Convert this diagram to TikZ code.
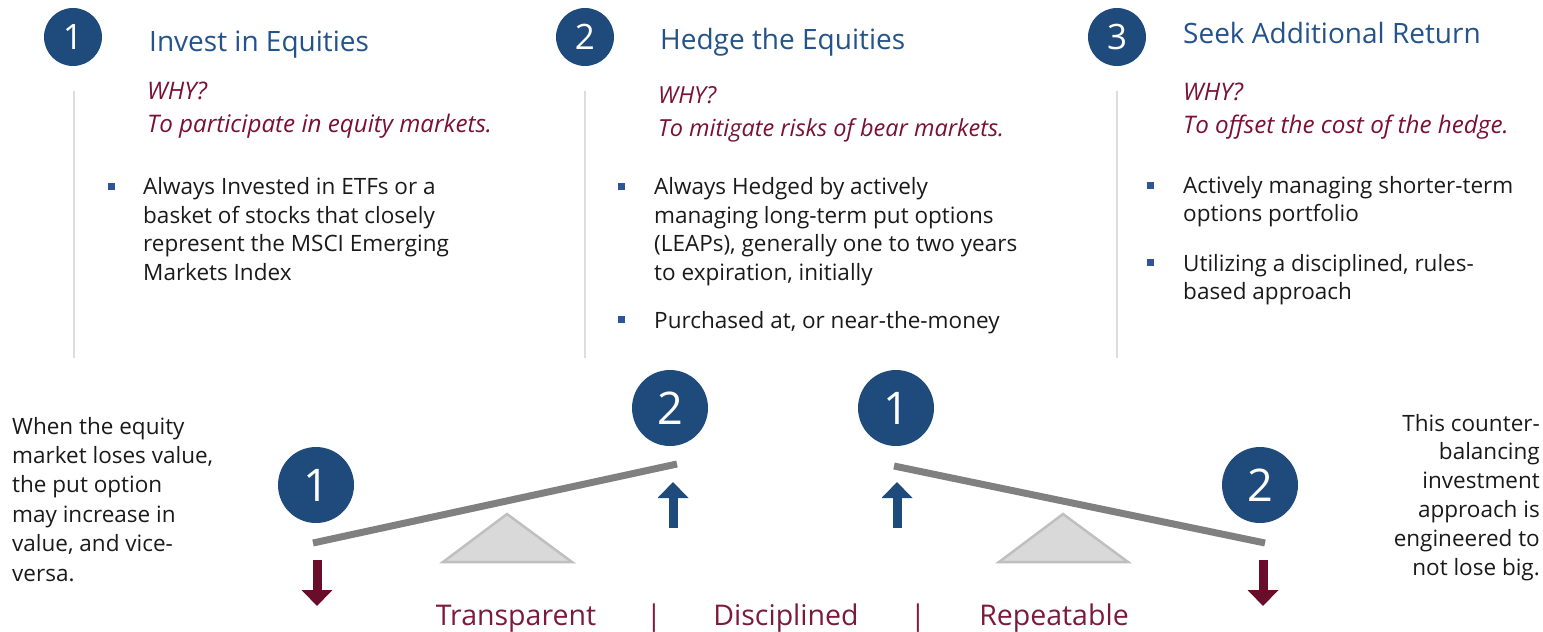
\documentclass[tikz,border=0pt]{standalone}
\usepackage{fontspec}
\setmainfont{Open Sans}
\usetikzlibrary{arrows.meta, positioning}

\definecolor{navy}{HTML}{1F4A7C}
\definecolor{titleblue}{HTML}{24528A}
\definecolor{dotblue}{HTML}{2F5597}
\definecolor{wine}{HTML}{7A1034}
\definecolor{winearrow}{HTML}{6A0D2A}
\definecolor{mottored}{HTML}{7B1A3C}
\definecolor{bodytext}{HTML}{1A1A1A}
\definecolor{rulegray}{HTML}{DDDDDD}
\definecolor{beamgray}{HTML}{808080}
\definecolor{pivotfill}{HTML}{D9D9D9}
\definecolor{pivotline}{HTML}{BFBFBF}

\begin{document}
\begin{tikzpicture}[x=1pt, y=-1pt,
  num/.style={circle, fill=navy, text=white, minimum size=58pt, inner sep=0pt, font=\fontsize{35}{35}\selectfont},
  bignum/.style={num, minimum size=76pt, font=\fontsize{45}{45}\selectfont},
  heading/.style={anchor=base west, inner sep=0pt, text=titleblue, font=\fontsize{28}{34}\selectfont},
  why/.style={anchor=base west, inner sep=0pt, align=left, text=wine, font=\fontsize{24.2}{33}\selectfont\itshape},
  item/.style={anchor=base west, inner sep=0pt, align=left, text=bodytext, font=\fontsize{22.5}{28.4}\selectfont},
  note/.style={inner sep=0pt, text=bodytext, font=\fontsize{22.5}{29.4}\selectfont},
  dot/.style={fill=dotblue, minimum size=7pt, inner sep=0pt},
  divider/.style={draw=rulegray, line width=2pt},
  beam/.style={draw=beamgray, line width=7pt},
  pivot/.style={fill=pivotfill, draw=pivotline, line width=2.5pt},
  rise/.style={draw=navy, line width=9pt, -{Triangle[width=30pt, length=16pt]}},
  fall/.style={draw=winearrow, line width=9pt, -{Triangle[width=30pt, length=16pt]}},
  motto/.style={anchor=base, inner sep=0pt, text=mottored, font=\fontsize{28.5}{34}\selectfont}]

  \useasboundingbox (0,0) rectangle (1543,632);

  \node[num] (n1) at (73,37) {1};
  \node[num] (n2) at (585,37) {2};
  \node[num] (n3) at (1117,37) {3};
  \node[heading] (invest) at (149,51) {Invest in Equities};
  \node[heading] (hedge) at (660,49) {Hedge the Equities};
  \node[heading] (seek) at (1183,43) {Seek Additional Return};

  \draw[divider] (74,91) -- (74,358);
  \draw[divider] (585,91) -- (585,358);
  \draw[divider] (1117,91) -- (1117,358);

  \node[why] (why1) at (147,132) {WHY?\\To participate in equity markets.};
  \node[why, font=\fontsize{23.5}{33}\selectfont\itshape] (why2) at (658,136) {WHY?\\To mitigate risks of bear markets.};
  \node[why] (why3) at (1183,133) {WHY?\\To offset the cost of the hedge.};

  \node[dot] (d11) at (111,186) {};
  \node[item] (t11) at (143,280) {Always Invested in ETFs or a\\basket of stocks that closely\\represent the MSCI Emerging\\Markets Index};
  \node[dot] (d21) at (621,186) {};
  \node[item] (t21) at (654,280) {Always Hedged by actively\\managing long-term put options\\(LEAPs), generally one to two years\\to expiration, initially};
  \node[dot] (d22) at (621,319) {};
  \node[item] (t22) at (654,328) {Purchased at, or near-the-money};
  \node[dot] (d31) at (1150,185) {};
  \node[item] (t31) at (1183,221.5) {Actively managing shorter-term\\options portfolio};
  \node[dot] (d32) at (1150,262) {};
  \node[item] (t32) at (1183,299.5) {Utilizing a disciplined, rules-\\based approach};

  \node[note, anchor=base west, align=left] (left) at (12,581) {When the equity\\market loses value,\\the put option\\may increase in\\value, and vice-\\versa.};
  \node[note, anchor=base east, align=right, font=\fontsize{22.5}{28.8}\selectfont] (right) at (1540,575) {This counter-\\balancing\\investment\\approach is\\engineered to\\not lose big.};

  \draw[pivot] (443,562) -- (507,514) -- (572,562) -- cycle;
  \draw[pivot] (999,562) -- (1063,514) -- (1128,562) -- cycle;

  \coordinate (bl1) at (313,543);
  \coordinate (br1) at (677,464);
  \coordinate (bl2) at (894,466);
  \coordinate (br2) at (1265,543);
  \draw[beam] (bl1) -- (br1);
  \draw[beam] (bl2) -- (br2);

  \node[bignum] (m1) at (316,485) {1};
  \node[bignum] (m2) at (670,408) {2};
  \node[bignum] (m3) at (896,408) {1};
  \node[bignum] (m4) at (1260,485) {2};

  \coordinate (f1s) at (317,560);
  \coordinate (f1e) at (317,606);
  \coordinate (r1s) at (673,528);
  \coordinate (r1e) at (673,482);
  \coordinate (r2s) at (897,528);
  \coordinate (r2e) at (897,482);
  \coordinate (f2s) at (1263,560);
  \coordinate (f2e) at (1263,606);
  \draw[fall] (f1s) -- (f1e);
  \draw[rise] (r1s) -- (r1e);
  \draw[rise] (r2s) -- (r2e);
  \draw[fall] (f2s) -- (f2e);

  \node[motto] (transparent) at (516,625) {Transparent};
  \node[motto] (bar1) at (654,625) {|};
  \node[motto] (disciplined) at (786,625) {Disciplined};
  \node[motto] (bar2) at (918,625) {|};
  \node[motto] (repeatable) at (1054,625) {Repeatable};
\end{tikzpicture}
\end{document}
